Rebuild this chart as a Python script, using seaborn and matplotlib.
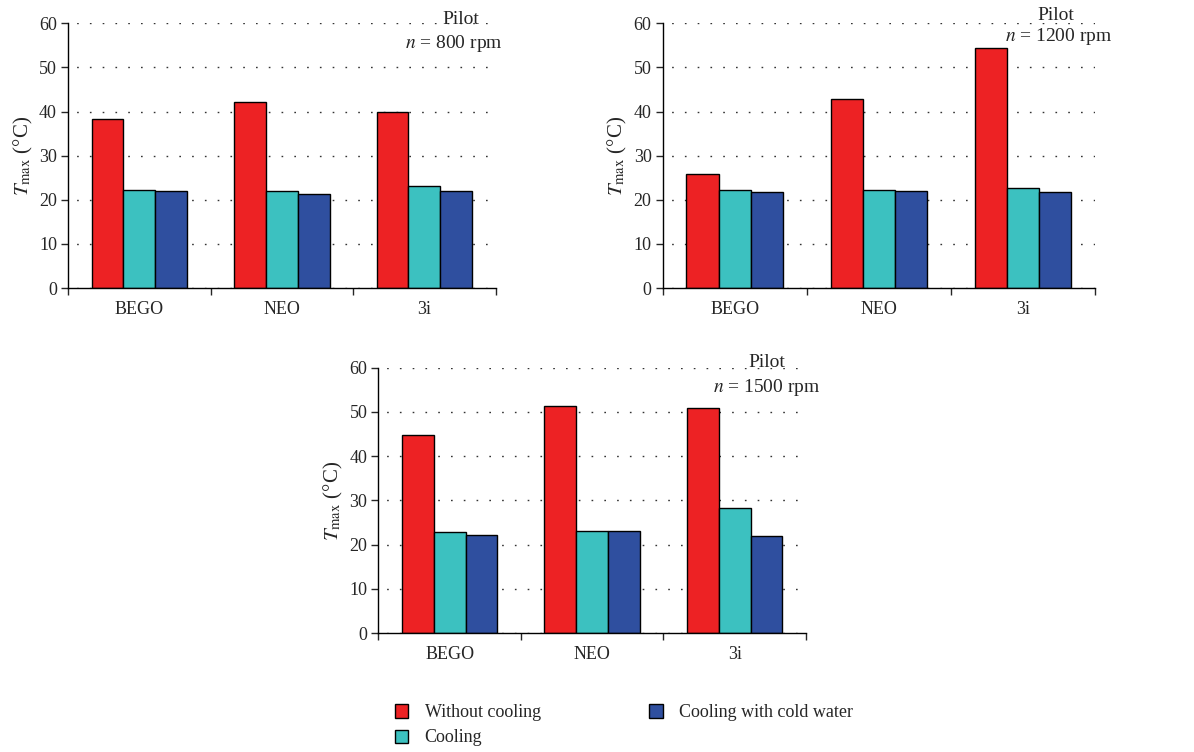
import matplotlib.pyplot as plt
import pandas as pd
import seaborn as sns

sns.set_style('white')
plt.rcParams['font.family'] = ['Liberation Serif', 'DejaVu Serif']
plt.rcParams['mathtext.fontset'] = 'stix'

implants = ['BEGO', 'NEO', '3i']
conditions = ['Without cooling', 'Cooling', 'Cooling with cold water']
colors = ['#ED2224', '#3CC1C0', '#2F4F9F']

# values, one list per condition
t800 = {'Without cooling': [38.4, 42.1, 39.8],
        'Cooling': [22.3, 22.0, 23.2],
        'Cooling with cold water': [22.0, 21.4, 22.0]}
t1200 = {'Without cooling': [25.8, 42.9, 54.4],
         'Cooling': [22.2, 22.2, 22.6],
         'Cooling with cold water': [21.8, 22.0, 21.7]}
t1500 = {'Without cooling': [44.8, 51.4, 50.9],
         'Cooling': [22.8, 23.2, 28.3],
         'Cooling with cold water': [22.1, 23.0, 22.0]}
speeds = ['800', '1200', '1500']


def to_long(d):
    rows = []
    for c in conditions:
        for imp, v in zip(implants, d[c]):
            rows.append({'implant': imp, 'condition': c, 'T': v})
    return pd.DataFrame(rows)


fig = plt.figure(figsize=(11.94, 7.52), dpi=100)
boxes = [[0.057, 0.617, 0.358, 0.352],
         [0.555, 0.617, 0.362, 0.352],
         [0.317, 0.158, 0.358, 0.353]]
# (pilot x, pilot y, n right x, n y) in axes fraction
labels_pos = [(0.92, 1.015, 1.016, 0.925),
              (0.91, 1.03, 1.04, 0.95),
              (0.909, 1.019, 1.035, 0.925)]

for box, data, rpm, lp in zip(boxes, [t800, t1200, t1500], speeds, labels_pos):
    ax = fig.add_axes(box)
    df = to_long(data)
    sns.barplot(df, x='implant', y='T', hue='condition', order=implants,
                hue_order=conditions, palette=colors, width=0.67,
                edgecolor='black', linewidth=1.0, saturation=1, ax=ax, legend=False)
    ax.set_xlim(-0.5, 2.5)
    ax.set_ylim(0, 60)
    ax.set_yticks(range(0, 61, 10))
    ax.yaxis.grid(True, linestyle=(3, (1.2, 8)), color='#333333', linewidth=1.0)
    ax.set_axisbelow(True)
    for s in ['top', 'right']:
        ax.spines[s].set_visible(False)
    for s in ['left', 'bottom']:
        ax.spines[s].set_color('black')
        ax.spines[s].set_linewidth(1.0)
    ax.tick_params(axis='y', left=True, length=5, width=1, labelsize=13, pad=3)
    ax.tick_params(axis='x', which='major', bottom=False, labelsize=13, pad=6)
    ax.set_xticks([-0.5, 0.5, 1.5, 2.5], minor=True)
    ax.tick_params(axis='x', which='minor', bottom=True, length=5, width=1)
    ax.set_xlabel('')
    ax.set_ylabel(r'$T_{\mathrm{max}}$ (°C)', fontsize=15, labelpad=3)
    ax.text(lp[0], lp[1], 'Pilot', transform=ax.transAxes, ha='center', va='center', fontsize=14)
    ax.text(lp[2], lp[3], r'$n$ = ' + rpm + ' rpm', transform=ax.transAxes,
            ha='right', va='center', fontsize=14)

handles = [plt.Rectangle((0, 0), 1, 1, facecolor=c, edgecolor='black', linewidth=1.0) for c in colors]
fig.legend(handles, conditions, ncol=2, loc='upper left', bbox_to_anchor=(0.317, 0.085),
           frameon=False, fontsize=13, handlelength=0.75, handleheight=0.75,
           handletextpad=0.9, columnspacing=6.0, labelspacing=0.45)

fig.savefig('out.png', dpi=100)
